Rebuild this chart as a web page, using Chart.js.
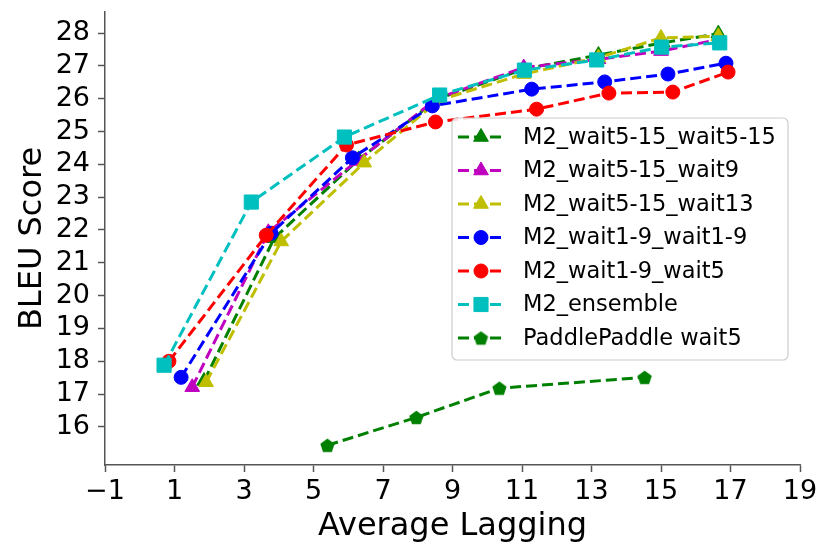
<!DOCTYPE html>
<html>
<head>
<meta charset="utf-8">
<script src="https://cdn.jsdelivr.net/npm/chart.js@4.4.1/dist/chart.umd.min.js"></script>
<style>
  html, body { margin: 0; padding: 0; background: #fff; }
  #wrap { width: 820px; height: 549px; }
</style>
</head>
<body>
<div id="wrap"><canvas id="c" width="820" height="549"></canvas></div>
<script>
// 目盛り
const xTicks = [-1, 1, 3, 5, 7, 9, 11, 13, 15, 17, 19];
const yTicks = [16, 17, 18, 19, 20, 21, 22, 23, 24, 25, 26, 27, 28];

// 系列名
const labels = [
  "M2_wait5-15_wait5-15",
  "M2_wait5-15_wait9",
  "M2_wait5-15_wait13",
  "M2_wait1-9_wait1-9",
  "M2_wait1-9_wait5",
  "M2_ensemble",
  "PaddlePaddle wait5",
];

// Average Lagging / BLEU
const greenX = [1.85, 3.87, 6.3, 8.6, 11.05, 13.2, 15.05, 16.65];
const greenY = [17.4, 21.75, 24.15, 26.0, 26.9, 27.33, 27.7, 27.98];
const magentaX = [1.51, 3.7, 6.25, 8.55, 11.05, 13.2, 15.0, 16.65];
const magentaY = [17.21, 21.93, 24.1, 26.0, 26.95, 27.2, 27.45, 27.8];
const yellowX = [1.91, 4.07, 6.46, 8.6, 11.05, 13.2, 15.0, 16.65];
const yellowY = [17.36, 21.65, 24.05, 25.95, 26.75, 27.25, 27.85, 27.9];
const blueX = [1.19, 3.78, 6.12, 8.42, 11.28, 13.38, 15.2, 16.87];
const blueY = [17.51, 21.9, 24.2, 25.78, 26.29, 26.51, 26.75, 27.08];
const redX = [0.84, 3.64, 5.95, 8.51, 11.42, 13.5, 15.34, 16.93];
const redY = [18.0, 21.84, 24.59, 25.29, 25.68, 26.17, 26.2, 26.81];
const cyanX = [0.7, 3.21, 5.89, 8.63, 11.07, 13.15, 15.02, 16.69];
const cyanY = [17.88, 22.85, 24.83, 26.11, 26.87, 27.18, 27.57, 27.7];
const paddleX = [5.4, 7.96, 10.35, 14.53];
const paddleY = [15.44, 16.29, 17.18, 17.51];

const xs = [greenX, magentaX, yellowX, blueX, redX, cyanX, paddleX];
const ys = [greenY, magentaY, yellowY, blueY, redY, cyanY, paddleY];

const colors = ["#008000", "#bf00bf", "#bfbf00", "#0000ff", "#ff0000", "#00bfbf", "#008000"];

// 五角形マーカー（Chart.js に無いので canvas で作る）
function pentagon(color, r) {
  const s = Math.ceil(r * 2 + 2);
  const cv = document.createElement("canvas");
  cv.width = s;
  cv.height = s;
  const g = cv.getContext("2d");
  g.fillStyle = color;
  g.beginPath();
  for (let k = 0; k < 5; k++) {
    const a = -Math.PI / 2 + (k * 2 * Math.PI) / 5;
    const px = s / 2 + r * Math.cos(a);
    const py = s / 2 + r * Math.sin(a) + r * 0.1;
    if (k === 0) g.moveTo(px, py);
    else g.lineTo(px, py);
  }
  g.closePath();
  g.fill();
  return cv;
}
const pentImg = pentagon("#008000", 7.5);

const styles = ["triangle", "triangle", "triangle", "circle", "circle", "rect", pentImg];
const radii = [8.5, 8.5, 8.5, 7, 7, 10, 7.5];

const datasets = labels.map((label, i) => ({
  label,
  data: xs[i].map((x, j) => ({ x, y: ys[i][j] })),
  borderColor: colors[i],
  backgroundColor: colors[i],
  pointBorderColor: colors[i],
  pointBackgroundColor: colors[i],
  pointStyle: styles[i],
  pointRadius: radii[i],
  pointBorderWidth: 1,
  borderWidth: 3,
  borderDash: [11, 5],
  fill: false,
  tension: 0,
  order: 6 - i,
}));

// matplotlib 風の凡例
const mplLegend = {
  id: "mplLegend",
  afterDraw(chart) {
    const ctx = chart.ctx;
    const x0 = 452, y0 = 118, w = 336, h = 242;
    ctx.save();
    ctx.fillStyle = "rgba(255,255,255,0.85)";
    ctx.strokeStyle = "#cccccc";
    ctx.lineWidth = 1.2;
    ctx.beginPath();
    ctx.roundRect(x0, y0, w, h, 5);
    ctx.fill();
    ctx.stroke();

    chart.data.datasets.forEach((ds, i) => {
      const cy = 137 + i * 33.5;
      ctx.strokeStyle = ds.borderColor;
      ctx.lineWidth = 3;
      ctx.setLineDash([11, 5]);
      ctx.beginPath();
      ctx.moveTo(458, cy);
      ctx.lineTo(505, cy);
      ctx.stroke();
      ctx.setLineDash([]);
      ctx.fillStyle = ds.pointBackgroundColor;
      ctx.strokeStyle = ds.pointBorderColor;
      ctx.lineWidth = 1;
      Chart.helpers.drawPoint(ctx, { pointStyle: ds.pointStyle, radius: ds.pointRadius, rotation: 0, borderWidth: 1 }, 481, cy);
      ctx.fillStyle = "#000";
      ctx.font = "22.5px 'DejaVu Sans'";
      ctx.textBaseline = "middle";
      ctx.textAlign = "left";
      ctx.fillText(ds.label, 523, cy + 1);
    });
    ctx.restore();
  },
};

const axisColor = "#555";
const tickFont = { family: "'DejaVu Sans'", size: 27 };
const titleFont = { family: "'DejaVu Sans'", size: 32 };

new Chart(document.getElementById("c"), {
  type: "line",
  data: { datasets },
  options: {
    responsive: false,
    animation: false,
    layout: { padding: { top: 12, right: 20, left: 0, bottom: 0 } },
    plugins: { legend: { display: false }, tooltip: { enabled: false } },
    scales: {
      x: {
        type: "linear",
        min: -1,
        max: 19,
        afterBuildTicks: (s) => { s.ticks = xTicks.map((v) => ({ value: v })); },
        afterFit: (s) => { s.height = 84; s.paddingLeft = 0; s.paddingRight = 0; },
        ticks: {
          color: "#000",
          font: tickFont,
          padding: 4,
          maxRotation: 0,
          autoSkip: false,
          callback: (v) => (v < 0 ? "\u2212" + Math.abs(v) : String(v)),
        },
        grid: { drawOnChartArea: false, drawTicks: true, tickLength: 7, tickColor: axisColor, tickWidth: 1.5 },
        border: { color: axisColor, width: 1.5 },
        title: { display: true, text: "Average Lagging", color: "#000", font: titleFont, padding: { top: 3, bottom: 3 } },
      },
      y: {
        type: "linear",
        min: 14.84,
        max: 28.64,
        afterBuildTicks: (s) => { s.ticks = yTicks.map((v) => ({ value: v })); },
        afterFit: (s) => { s.width = 105; s.paddingTop = 0; s.paddingBottom = 0; },
        ticks: { color: "#000", font: tickFont, padding: 8, autoSkip: false },
        grid: { drawOnChartArea: false, drawTicks: true, tickLength: 7, tickColor: axisColor, tickWidth: 1.5 },
        border: { color: axisColor, width: 1.5 },
        title: { display: true, text: "BLEU Score", color: "#000", font: titleFont, padding: { top: 13, bottom: 3 } },
      },
    },
  },
  plugins: [mplLegend],
});
</script>
</body>
</html>
